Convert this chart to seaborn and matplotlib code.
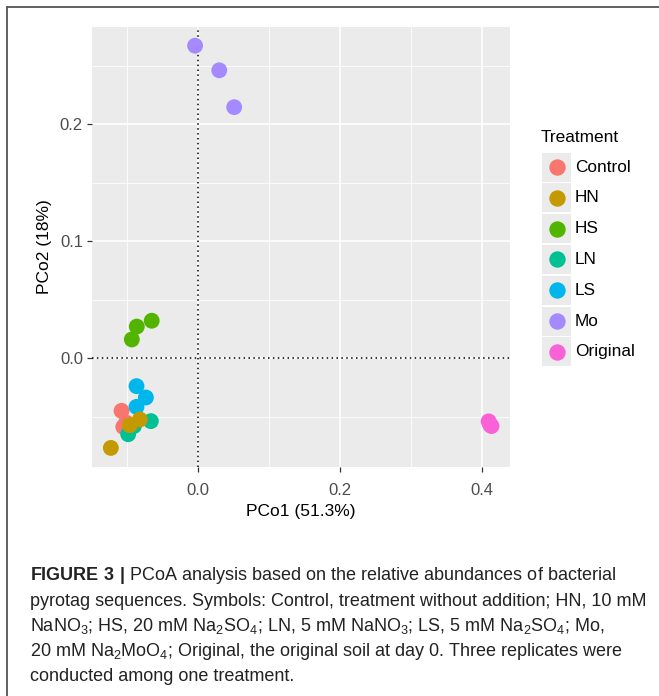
import numpy as np
import pandas as pd
import seaborn as sns
import matplotlib
matplotlib.use("Agg")
import matplotlib.pyplot as plt
from matplotlib.lines import Line2D
from matplotlib.patches import Rectangle

# ---------------- data ----------------
treatments = ["Control", "HN", "HS", "LN", "LS", "Mo", "Original"]
colors = ["#F8766D", "#C49A00", "#53B400", "#00C094", "#00B6EB", "#A58AFF", "#FB61D7"]

control_x = [-0.1075, -0.105, -0.101]
control_y = [-0.045, -0.0587, -0.055]
ln_x = [-0.0662, -0.0981, -0.090]
ln_y = [-0.0538, -0.065, -0.058]
ls_x = [-0.0864, -0.0732, -0.0864]
ls_y = [-0.0239, -0.0336, -0.0416]
hn_x = [-0.1225, -0.0817, -0.0958]
hn_y = [-0.0767, -0.0524, -0.0573]
hs_x = [-0.086, -0.065, -0.093]
hs_y = [0.027, 0.032, 0.016]
mo_x = [-0.004, 0.030, 0.051]
mo_y = [0.267, 0.246, 0.2145]
orig_x = [0.409, 0.413, 0.411]
orig_y = [-0.054, -0.058, -0.057]

xticks = [0.0, 0.2, 0.4]
yticks = [0.0, 0.1, 0.2]
xlabel = "PCo1 (51.3%)"
ylabel = "PCo2 (18%)"
legend_title = "Treatment"

caption_lines = [
    r"$\mathbf{FIGURE\ 3\ |}$ PCoA analysis based on the relative abundances of bacterial",
    "pyrotag sequences. Symbols: Control, treatment without addition; HN, 10 mM",
    r"NaNO$_3$; HS, 20 mM Na$_2$SO$_4$; LN, 5 mM NaNO$_3$; LS, 5 mM Na$_2$SO$_4$; Mo,",
    r"20 mM Na$_2$MoO$_4$; Original, the original soil at day 0. Three replicates were",
    "conducted among one treatment.",
]

groups = [("Control", control_x, control_y), ("LN", ln_x, ln_y), ("LS", ls_x, ls_y),
          ("HN", hn_x, hn_y), ("HS", hs_x, hs_y), ("Mo", mo_x, mo_y),
          ("Original", orig_x, orig_y)]
rows = []
for name, xs, ys in groups:
    for a, b in zip(xs, ys):
        rows.append({"PCo1": a, "PCo2": b, "Treatment": name})
df = pd.DataFrame(rows)

# ---------------- style ----------------
sns.set_theme(style="darkgrid", rc={"axes.facecolor": "#EBEBEB", "grid.color": "white"})
plt.rcParams["font.family"] = ["Liberation Sans", "DejaVu Sans"]
plt.rcParams["mathtext.fontset"] = "custom"
plt.rcParams["mathtext.rm"] = "Liberation Sans"
plt.rcParams["mathtext.bf"] = "Liberation Sans:bold"
plt.rcParams["mathtext.default"] = "regular"

W, H = 659, 696
fig = plt.figure(figsize=(W / 100, H / 100), dpi=100)
ax = fig.add_axes([92 / W, 1 - 467 / H, (510 - 92) / W, (467 - 27) / H])

pal = dict(zip(treatments, colors))
sns.scatterplot(data=df, x="PCo1", y="PCo2", hue="Treatment", palette=pal,
                hue_order=treatments, s=130, linewidth=0, legend=False, ax=ax, zorder=3)

ax.axvline(0, color="black", ls=(0, (1, 2.2)), lw=1.1, zorder=2)
ax.axhline(0, color="black", ls=(0, (1, 2.2)), lw=1.1, zorder=2)

ax.set_xlim(-0.149, 0.439)
ax.set_ylim(-0.093, 0.283)
ax.set_xticks(xticks)
ax.set_yticks(yticks)
ax.set_xticklabels([f"{v:.1f}" for v in xticks])
ax.set_yticklabels([f"{v:.1f}" for v in yticks])
ax.set_xticks([-0.1, 0.1, 0.3], minor=True)
ax.set_yticks([-0.05, 0.05, 0.15, 0.25], minor=True)
ax.grid(which="major", color="white", lw=1.2, zorder=0)
ax.grid(which="minor", color="white", lw=0.6, zorder=0)
ax.set_axisbelow(True)
for s in ax.spines.values():
    s.set_visible(False)
ax.tick_params(axis="both", which="major", length=3.5, width=0.9, color="#333333",
               labelcolor="#4D4D4D", labelsize=12, pad=3, bottom=True, left=True)
ax.tick_params(axis="x", which="major", pad=8)
ax.tick_params(axis="both", which="minor", length=0)
ax.set_xlabel(xlabel, fontsize=12.5, color="black", labelpad=4.5)
ax.set_ylabel(ylabel, fontsize=12.5, color="black", labelpad=6)

# ---------------- legend (manual) ----------------
fig.text(541 / W, 1 - 138 / H, legend_title, fontsize=12.4, color="black",
         ha="left", va="center")
row_h = 30.8
for i, (t, c) in enumerate(zip(treatments, colors)):
    yc = 167 + i * row_h
    fig.add_artist(Rectangle((542 / W, 1 - (yc + 14.5) / H), 29 / W, 29 / H,
                             transform=fig.transFigure, facecolor="#EBEBEB",
                             edgecolor="none"))
    fig.add_artist(Line2D([556.5 / W], [1 - yc / H], marker="o", markersize=11.8,
                          color=c, markeredgewidth=0, transform=fig.transFigure))
    fig.text(575 / W, 1 - yc / H, t, fontsize=12.4, color="black",
             ha="left", va="center")

# ---------------- frame & caption ----------------
fig.add_artist(Line2D([7 / W, 1], [1 - 7 / H, 1 - 7 / H], color="#555555", lw=1.3,
                      transform=fig.transFigure))
fig.add_artist(Line2D([7 / W, 7 / W], [0, 1 - 7 / H], color="#555555", lw=1.3,
                      transform=fig.transFigure))
for i, line in enumerate(caption_lines):
    fig.text(30 / W, 1 - (576 + i * 25.2) / H, line, fontsize=12.95, color="#222222",
             ha="left", va="center")

fig.savefig("out.png", dpi=100, facecolor="white")
